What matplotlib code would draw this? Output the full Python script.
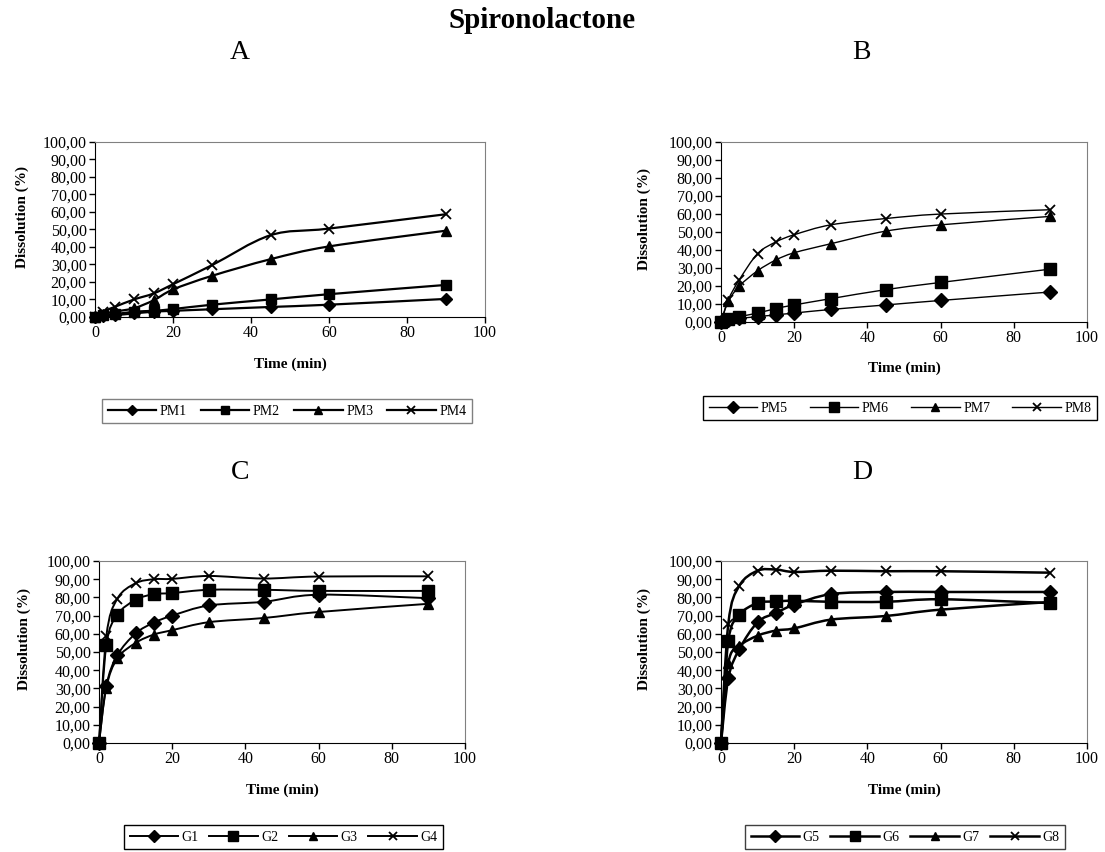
import matplotlib
matplotlib.use('Agg')
import matplotlib.pyplot as plt
from matplotlib.path import Path
from matplotlib.patches import PathPatch
from matplotlib.lines import Line2D
from matplotlib.ticker import FuncFormatter
import numpy as np

plt.rcParams['font.family'] = ['Liberation Serif', 'DejaVu Serif']

# sampling times (min)
time_min = [0, 2, 5, 10, 15, 20, 30, 45, 60, 90]

# panel A - physical mixtures
pm1 = [0, 0.5, 1.0, 2.0, 3.0, 3.5, 4.4, 5.7, 7.0, 10.3]
pm2 = [0, 1.0, 1.5, 3.0, 3.5, 4.5, 7.0, 10.0, 13.0, 18.3]
pm3 = [0, 1.5, 3.0, 5.0, 9.5, 15.7, 23.5, 33.0, 40.3, 49.3]
pm4 = [0, 3.0, 5.7, 10.0, 13.4, 18.7, 29.6, 46.7, 50.5, 58.7]

# panel B
pm5 = [0, 1.0, 2.0, 3.0, 4.0, 5.0, 7.0, 9.5, 12.0, 16.7]
pm6 = [0, 1.5, 3.0, 5.0, 7.5, 9.5, 13.0, 18.0, 22.0, 29.4]
pm7 = [0, 11.5, 20.0, 28.5, 34.5, 38.5, 43.5, 50.5, 54.0, 58.7]
pm8 = [0, 12.4, 23.5, 38.0, 44.5, 48.5, 54.0, 57.5, 60.0, 62.4]

# panel C - granules
g1 = [0, 31.5, 48.2, 60.2, 66.2, 70.0, 75.6, 77.6, 81.5, 79.6]
g2 = [0, 53.6, 70.4, 78.7, 81.8, 82.4, 84.2, 84.2, 83.6, 83.6]
g3 = [0, 30.5, 46.5, 55.0, 59.6, 62.0, 66.4, 68.7, 72.0, 76.5]
g4 = [0, 58.7, 79.3, 87.8, 90.0, 90.2, 91.8, 90.4, 91.5, 91.6]

# panel D
g5 = [0, 35.6, 51.5, 66.4, 71.5, 76.0, 81.8, 83.0, 83.0, 83.0]
g6 = [0, 56.0, 70.4, 76.9, 77.8, 78.2, 77.6, 77.6, 79.0, 76.9]
g7 = [0, 44.0, 53.3, 59.0, 61.8, 63.0, 67.8, 69.8, 73.3, 77.5]
g8 = [0, 65.6, 86.4, 94.7, 95.3, 94.0, 94.7, 94.4, 94.4, 93.6]

markers = ['D', 's', '^', 'x']


def smooth_path(x, y):
    # Excel-like smoothed line (cubic bezier through the points)
    n = len(x)
    verts = [(x[0], y[0])]
    codes = [Path.MOVETO]
    for i in range(n - 1):
        a = i - 1 if i > 0 else i
        d = i + 2 if i + 2 < n else i + 1
        c1 = (x[i] + (x[i + 1] - x[a]) / 6, y[i] + (y[i + 1] - y[a]) / 6)
        c2 = (x[i + 1] - (x[d] - x[i]) / 6, y[i + 1] - (y[d] - y[i]) / 6)
        verts += [c1, c2, (x[i + 1], y[i + 1])]
        codes += [Path.CURVE4] * 3
    return Path(verts, codes)


def panel(fig, rect, series, names, lw, ms, leg_box, leg_edge, xlab_y, ylab_x):
    ax = fig.add_axes(rect)
    handles = []
    for s, m, name in zip(series, markers, names):
        ax.add_patch(PathPatch(smooth_path(time_min, s), fill=False,
                               edgecolor='black', lw=lw, clip_on=False))
        size = ms + 1 if m == 's' else ms
        mew = 1.3 if m == 'x' else 1
        ax.plot(time_min, s, ls='none', marker=m, color='black', ms=size,
                mew=mew, clip_on=False, zorder=3)
        handles.append(Line2D([], [], color='black', lw=lw, marker=m,
                              ms=size * 0.85, mew=mew, label=name))
    ax.set_xlim(0, 100)
    ax.set_ylim(0, 100)
    ax.set_xticks(range(0, 101, 20))
    ax.set_yticks(range(0, 101, 10))
    ax.yaxis.set_major_formatter(FuncFormatter(lambda v, p: f"{v:.2f}".replace('.', ',')))
    ax.tick_params(direction='out', length=4, width=1, labelsize=11.5, pad=2)
    for side in ['top', 'right']:
        ax.spines[side].set_color('#808080')
    ax.set_xlabel('Time (min)', fontweight='bold', fontsize=11)
    ax.set_ylabel('Dissolution (%)', fontweight='bold', fontsize=11)
    ax.xaxis.set_label_coords(0.5, xlab_y)
    ax.yaxis.set_label_coords(ylab_x, 0.57)
    leg = ax.legend(handles=handles, loc='upper left', bbox_to_anchor=leg_box,
                    bbox_transform=fig.transFigure, mode='expand', ncol=4,
                    fontsize=10, handlelength=3.5, handletextpad=0.25,
                    borderaxespad=0, fancybox=False, framealpha=1,
                    edgecolor=leg_edge)
    leg.get_frame().set_linewidth(1)
    return ax


fig = plt.figure(figsize=(11.05, 8.52), dpi=100)

fig.text(0.4905, 0.976, 'Spironolactone', ha='center', va='center',
         fontsize=21, fontweight='bold')
for lab, x, y in [('A', 0.217, 0.938), ('B', 0.780, 0.938),
                  ('C', 0.217, 0.445), ('D', 0.780, 0.445)]:
    fig.text(x, y, lab, ha='center', va='center', fontsize=20)

panel(fig, [0.086, 0.628, 0.353, 0.2054], [pm1, pm2, pm3, pm4],
      ['PM1', 'PM2', 'PM3', 'PM4'], 1.6, 6.5,
      (0.0923, 0.4988, 0.3348, 0.0329), '#808080', -0.23, -0.168)
panel(fig, [0.6525, 0.622, 0.3312, 0.2113], [pm5, pm6, pm7, pm8],
      ['PM5', 'PM6', 'PM7', 'PM8'], 1.0, 7,
      (0.6362, 0.5035, 0.3566, 0.0317), 'black', -0.217, -0.19)
panel(fig, [0.0896, 0.1279, 0.3312, 0.2136], [g1, g2, g3, g4],
      ['G1', 'G2', 'G3', 'G4'], 1.4, 7.5,
      (0.1122, -0.005, 0.2887, 0.0364), 'black', -0.225, -0.185)
panel(fig, [0.6525, 0.1279, 0.3312, 0.2136], [g5, g6, g7, g8],
      ['G5', 'G6', 'G7', 'G8'], 1.8, 7.5,
      (0.6742, -0.005, 0.2896, 0.0364), '#404040', -0.225, -0.19)

fig.savefig('out.png', dpi=100)
plt.close(fig)
